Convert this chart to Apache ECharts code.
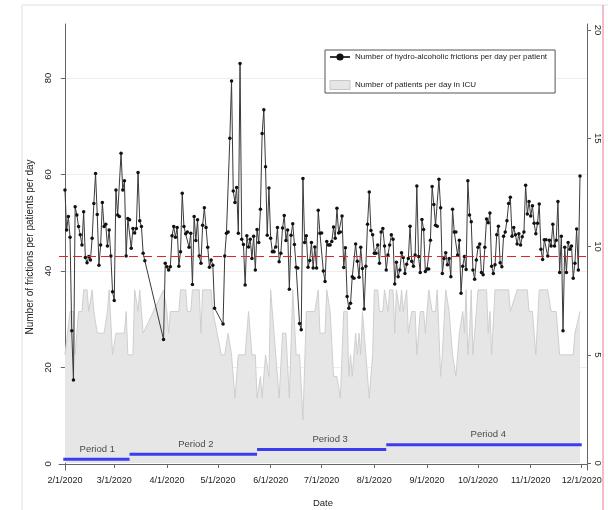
<!DOCTYPE html>
<html><head><meta charset="utf-8">
<script src="https://cdn.jsdelivr.net/npm/echarts@6/dist/echarts.min.js"></script>
<style>html,body{margin:0;padding:0;background:#fff}#c{width:608px;height:510px}</style>
</head><body><div id="c"></div>
<script>
// ---------- data ----------
const xTickLabels = ['2/1/2020','3/1/2020','4/1/2020','5/1/2020','6/1/2020','7/1/2020','8/1/2020','9/1/2020','10/1/2020','11/1/2020','12/1/2020'];
const leftTicks = [0, 20, 40, 60, 80];
const rightTicks = [0, 5, 10, 15, 20];
const seriesNames = ['Number of hydro-alcoholic frictions per day per patient', 'Number of patients per day in ICU'];
const meanFriction = 43;

// frictions per day per patient, runs of consecutive days (day 0 = 2/1/2020)
const fricStartA = 0;
const fricA = [56.8,48.5,51.3,47.0,27.6,17.4,53.3,51.6,49.2,47.5,45.4,52.3,42.8,41.7,43.0,42.3,46.8,54.0,60.2,51.7,41.2,45.4,54.2,49.2,49.7,45.2,48.5,43.1,35.7,33.9,56.8,51.6,51.3,64.4,56.8,58.7,43.1,50.9,50.6,44.7,48.8,47.9,48.8,60.4,50.4,49.2,43.7,42.1];
const fricStartB = 58;
const fricB = [25.8,41.6,40.9,40.2,40.9,47.3,49.2,47.0,49.0,41.0,44.0,56.1,49.2,47.7,48.1,44.9,47.8,37.2,51.3,46.3,50.6,43.1,41.6,49.5,53.1,49.0,44.9,40.8,42.3,41.2,32.3];
const fricStartC = 93;
const fricC = [29.0,43.1,47.8,48.1,67.5,79.4,56.6,54.2,57.3,47.8,83.0,46.6,45.5,37.1,47.3,45.0,46.6,42.6,47.2,40.2,48.6,45.9,52.8,68.5,73.4,61.6,47.4,57.2,46.8,44.0,44.0,45.0,49.0,41.9,43.7,48.9,51.5,46.3,48.5,36.2,47.4,49.8,45.5,40.8,40.6,29.1,27.8,59.2,45.9,47.3,40.8,42.2,45.9,40.6,45.0,40.6,52.6,47.8,47.9,
 40.0,37.8,46.1,45.4,45.4,46.1,49.1,46.8,53.0,47.9,48.1,51.4,40.7,44.8,34.7,32.3,33.3,38.8,38.5,45.6,42.0,38.7,44.9,40.5,32.1,41.0,49.7,56.4,48.4,47.5,43.7,43.7,45.4,41.6,48.1,48.8,45.2,40.2,43.3,45.4,47.5,46.6,37.3,41.8,38.8,40.2,43.8,42.8,39.5,41.4,42.6,49.3,42.0,41.0,43.3,57.6,43.0,39.7,50.7,48.6,39.9,40.4,40.4,46.4,57.5,53.8,49.5,49.3,59.0,53.1,39.5,42.6,43.8,41.3,42.6,38.8,52.8,
 48.1,48.1,43.3,46.4,35.4,41.0,43.0,40.3,58.7,51.6,50.2,40.2,38.3,42.3,44.9,45.6,39.7,39.2,44.9,50.8,50.0,52.0,41.0,39.5,41.3,47.5,49.3,41.7,40.9,47.2,48.1,50.4,54.0,55.3,47.2,49.0,47.5,45.6,47.7,45.4,47.1,48.1,57.8,51.8,54.4,51.4,53.5,49.9,47.7,49.9,53.9,44.5,42.4,46.5,46.5,43.1,46.4,45.2,49.7,45.2,46.4,54.4,39.7,47.2,27.6,44.9,39.7,45.9,44.5,45.2,38.5,41.6,48.7,40.2,59.7];

// patients per day in ICU (day offsets where the count is read, and the count)
const patDays = [0,3,5,6,8,10,11,13,14,15,16,17,19,23,25,26,27,28,30,35,36,37,40,41,42,43,44,45,46,47,58,60,61,62,67,68,71,72,74,75,79,80,81,86,87,88,92,94,96,98,100,102,106,108,110,112,113,115,116,118,120,121,123,126,128,130,132,134,136,138,140,142,147,149,150,153,154,156,158,160,162,164,166,167,168,169,171,172,173,174,175,177,179,181,182,184,185,187,188,190,191,193,194,195,197,198,199,201,202,204,206,207,209,211,212,214,216,218,219,221,222,224,226,228,230,232,234,235,236,237,238,239,240,242,243,248,249,250,251,253,261,262,266,272,273,275,277,279,284,286,289,291,299,300,303];
const patVals = [5,7,7,5,7,7,8,8,7,7,8,7,6,6,7,8,8,5,6,6,7,5,5,8,8,7,8,7,6,6,8,7,6,7,7,8,8,7,7,8,8,6,8,8,7,7,5,5,6,5,3,5,5,7,5,5,3,4,3,5,4,8,6,3,6,6,3,8,5,5,2,7,7,8,6,6,8,7,4,4,3,7,7,4,5,4,6,5,6,5,7,5,3,5,8,8,7,7,8,7,8,8,6,8,7,8,7,8,6,7,7,5,7,7,6,8,7,7,8,4,5,8,7,5,4,6,7,6,8,5,6,8,5,7,8,8,6,7,5,8,8,7,8,8,7,7,5,8,8,7,7,5,5,6,7];

// study periods
const periodNames = ['Period 1','Period 2','Period 3','Period 4'];
const periodStart = [-1, 38, 113, 189];
const periodEnd = [38, 113, 189, 304];
const periodLevel = [1, 2, 3, 4];
const periodLabelDay = [19, 77, 156, 249];

// ---------- helpers ----------
const DAY = 86400000;
const ORIGIN = Date.UTC(2020, 1, 1);
const parseMDY = s => { const p = s.split('/').map(Number); return (Date.UTC(p[2], p[0]-1, p[1]) - ORIGIN) / DAY; };
const xTicks = xTickLabels.map(parseMDY);
const fmt = v => { const d = new Date(ORIGIN + Math.round(v) * DAY); return (d.getUTCMonth()+1) + '/' + d.getUTCDate() + '/' + d.getUTCFullYear(); };

const fricData = [];
[[fricStartA, fricA],[fricStartB, fricB],[fricStartC, fricC]].forEach(([s, arr]) => arr.forEach((v, i) => fricData.push([s+i, v])));
const patData = patDays.map((d, i) => [d, patVals[i]]);

const FONT = "'Liberation Sans', Arial, sans-serif";
const TXT = '#222';
const RED = '#e3222b';

const series = [
  { name: seriesNames[1], type: 'line', yAxisIndex: 1, data: patData, symbol: 'none',
    lineStyle: { color: '#cfcfcf', width: 1 }, areaStyle: { color: '#e6e6e6', opacity: 1 },
    itemStyle: { color: '#e6e6e6', borderColor: '#c8c8c8' }, z: 1 },
  { name: seriesNames[0], type: 'line', yAxisIndex: 0, data: fricData, symbol: 'circle', symbolSize: 3.5,
    showAllSymbol: true,
    lineStyle: { color: '#3a3a3a', width: 1 }, itemStyle: { color: '#111' }, z: 4,
    markLine: { silent: true, symbol: ['none','none'], label: { show: false },
      lineStyle: { color: RED, type: [9, 5], width: 1.2 }, itemStyle: { color: RED },
      data: [{ yAxis: meanFriction, lineStyle: { color: RED, type: [9, 5], width: 1.2 } }] } }
];
periodNames.forEach((n, i) => {
  series.push({ name: n, type: 'line', yAxisIndex: 0, symbol: 'none', z: 3,
    data: [[periodStart[i], periodLevel[i]], [periodEnd[i], periodLevel[i]]],
    lineStyle: { color: '#3b3bf2', width: 3 } });
});
series.push({ type: 'scatter', yAxisIndex: 0, symbolSize: 0, z: 5, silent: true,
  data: periodNames.map((n, i) => ({ value: [periodLabelDay[i], periodLevel[i]], name: n })),
  label: { show: true, position: 'top', distance: 5, formatter: p => p.name,
    fontFamily: FONT, fontSize: 9.5, color: TXT } });

const chart = echarts.init(document.getElementById('c'), null, { renderer: 'canvas' });
chart.setOption({
  animation: false,
  backgroundColor: '#fff',
  textStyle: { fontFamily: FONT },
  grid: { left: 59, right: 21, top: 24, bottom: 40, containLabel: false, outerBoundsMode: 'none' },
  graphic: [
    { type: 'rect', shape: { x: 22, y: 5, width: 620, height: 530 }, style: { fill: 'none', stroke: '#d9e4e7', lineWidth: 1 }, z: -1 },
    { type: 'line', shape: { x1: 603, y1: 5, x2: 603, y2: 510 }, style: { stroke: '#e87b8a', lineWidth: 1 } }
  ],
  legend: {
    orient: 'vertical', left: 325, top: 50, itemWidth: 20, itemHeight: 9, itemGap: 19,
    padding: [3, 8, 3, 4], borderColor: '#555', borderWidth: 1, borderRadius: 0, backgroundColor: '#fff',
    textStyle: { fontFamily: FONT, fontSize: 8, color: TXT },
    data: [
      { name: seriesNames[0] },
      { name: seriesNames[1], icon: 'rect', itemStyle: { color: '#e6e6e6', borderColor: '#c8c8c8', borderWidth: 1 } }
    ]
  },
  xAxis: {
    type: 'value', min: -3.5, max: 307.1,
    name: 'Date', nameLocation: 'middle', nameGap: 28,
    nameTextStyle: { fontFamily: FONT, fontSize: 9.5, color: TXT },
    axisLine: { lineStyle: { color: '#666' } },
    axisTick: { show: true, length: 4, customValues: xTicks, lineStyle: { color: '#666' } },
    axisLabel: { customValues: xTicks, formatter: fmt, fontFamily: FONT, fontSize: 9, color: TXT, margin: 6, hideOverlap: false },
    splitLine: { show: false }
  },
  yAxis: [
    { type: 'value', min: -1.25, max: 91.2, position: 'left',
      name: 'Number of frictions per patients per day', nameLocation: 'middle', nameGap: 12,
      nameTextStyle: { fontFamily: FONT, fontSize: 10, color: TXT },
      axisLine: { show: true, lineStyle: { color: '#666' } },
      axisTick: { show: true, length: 4, customValues: leftTicks, lineStyle: { color: '#666' } },
      axisLabel: { customValues: leftTicks, rotate: 90, fontFamily: FONT, fontSize: 9.5, color: TXT, margin: 6 },
      splitLine: { show: true, lineStyle: { color: '#e8f0f1', width: 1 } } },
    { type: 'value', min: -0.32, max: 20.28, position: 'right',
      name: 'Number of patients', nameLocation: 'middle', nameGap: 2,
      nameTextStyle: { fontFamily: FONT, fontSize: 10, color: TXT },
      axisLine: { show: true, lineStyle: { color: '#666' } },
      axisTick: { show: true, length: 4, customValues: rightTicks, lineStyle: { color: '#666' } },
      axisLabel: { customValues: rightTicks, rotate: -90, fontFamily: FONT, fontSize: 9.5, color: TXT, margin: 6 },
      splitLine: { show: false } }
  ],
  series: series
});
</script>
</body></html>
